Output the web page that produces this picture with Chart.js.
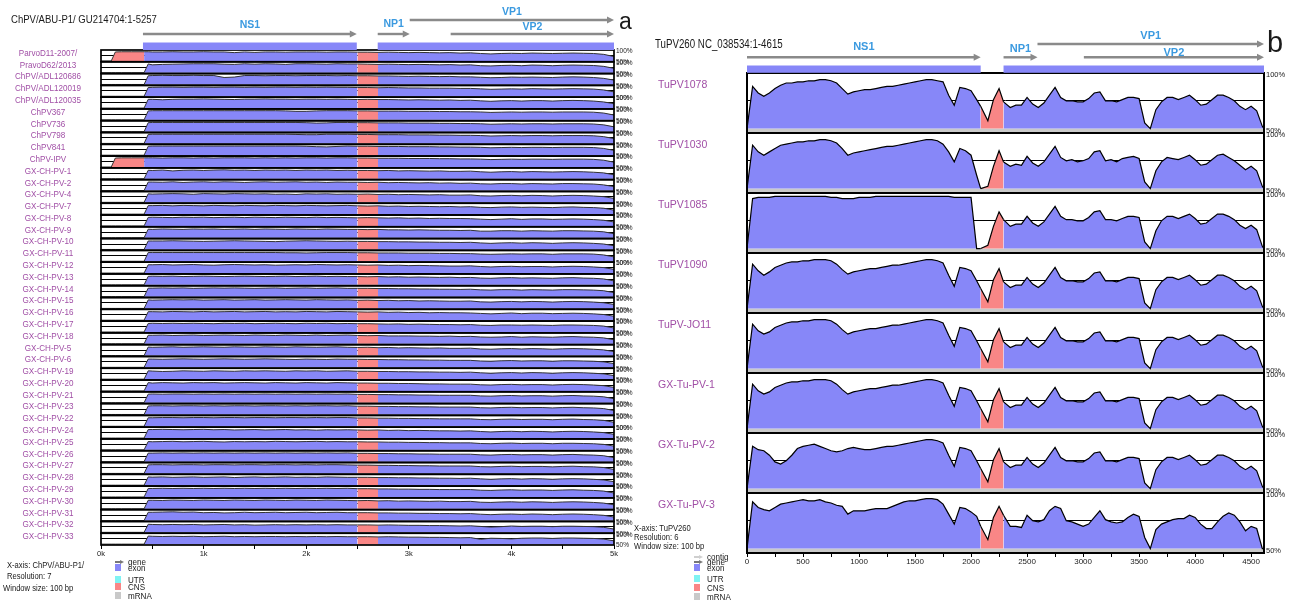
<!DOCTYPE html>
<html>
<head>
<meta charset="utf-8">
<title>VISTA plots</title>
<script src="https://cdn.jsdelivr.net/npm/chart.js@4.4.1/dist/chart.umd.min.js"></script>
<style>
  html, body { margin: 0; padding: 0; background: #fff; }
  body { position: relative; width: 1295px; height: 602px; overflow: hidden; font-family: "Liberation Sans", Arial, sans-serif; }
  canvas { position: absolute; top: 0; }
  .txt { position: absolute; white-space: nowrap; color: #1a1a1a; line-height: 1; transform-origin: 0 0; }
  .sw { position: absolute; width: 6px; height: 7px; }
</style>
</head>
<body>
<canvas id="chartA" width="650" height="602" style="left:0"></canvas>
<canvas id="chartB" width="655" height="602" style="left:640px"></canvas>

<div class="txt" style="left:11px;top:13.5px;font-size:11.5px;transform:scaleX(0.83)">ChPV/ABU-P1/ GU214704:1-5257</div>
<div class="txt" style="left:619px;top:10px;font-size:23px">a</div>
<div class="txt" style="left:655px;top:37.5px;font-size:12px;transform:scaleX(0.81)">TuPV260 NC_038534:1-4615</div>
<div class="txt" style="left:1267px;top:28px;font-size:29px">b</div>

<div class="txt" style="left:7px;top:560.5px;font-size:9.3px;transform:scaleX(0.82)">X-axis: ChPV/ABU-P1/</div>
<div class="txt" style="left:7px;top:572px;font-size:9.3px;transform:scaleX(0.82)">Resolution: 7</div>
<div class="txt" style="left:3px;top:584px;font-size:9.3px;transform:scaleX(0.82)">Window size: 100 bp</div>

<div class="txt" style="left:634px;top:524px;font-size:9.3px;transform:scaleX(0.82)">X-axis: TuPV260</div>
<div class="txt" style="left:634px;top:533px;font-size:9.3px;transform:scaleX(0.82)">Resolution: 6</div>
<div class="txt" style="left:634px;top:541.5px;font-size:9.3px;transform:scaleX(0.82)">Window size: 100 bp</div>

<div id="legA"></div>
<div id="legB"></div>

<script>
// ---------- panel a : ChPV/ABU-P1 reference, 42 tracks ----------
const xsA = [0, 100, 140, 200, 300, 400, 420, 460, 500, 600, 700, 800, 900, 1000, 1100, 1200, 1300, 1400,
  1500, 1600, 1700, 1800, 1900, 2000, 2100, 2200, 2300, 2400, 2500, 2600, 2700, 2800, 2900, 3000, 3100,
  3200, 3300, 3400, 3500, 3600, 3700, 3800, 3900, 4000, 4100, 4200, 4300, 4400, 4500, 4600, 4700, 4800,
  4900, 5000];
const xTicksA = [0, 500, 1000, 1500, 2000, 2500, 3000, 3500, 4000, 4500, 5000];

const namesA = ["ParvoD11-2007/", "PravoD62/2013", "ChPV/ADL120686", "ChPV/ADL120019", "ChPV/ADL120035",
  "ChPV367", "ChPV736", "ChPV798", "ChPV841", "ChPV-IPV", "GX-CH-PV-1", "GX-CH-PV-2", "GX-CH-PV-4",
  "GX-CH-PV-7", "GX-CH-PV-8", "GX-CH-PV-9", "GX-CH-PV-10", "GX-CH-PV-11", "GX-CH-PV-12", "GX-CH-PV-13",
  "GX-CH-PV-14", "GX-CH-PV-15", "GX-CH-PV-16", "GX-CH-PV-17", "GX-CH-PV-18", "GX-CH-PV-5", "GX-CH-PV-6",
  "GX-CH-PV-19", "GX-CH-PV-20", "GX-CH-PV-21", "GX-CH-PV-23", "GX-CH-PV-22", "GX-CH-PV-24", "GX-CH-PV-25",
  "GX-CH-PV-26", "GX-CH-PV-27", "GX-CH-PV-28", "GX-CH-PV-29", "GX-CH-PV-30", "GX-CH-PV-31", "GX-CH-PV-32",
  "GX-CH-PV-33"];

// conserved identity (%) per track, read at xsA
const identA = [
  [50,50,91,92,92,92,92,92, 91,91,92,91,91,92,91,91,88,91, 89,91,91,90,91,91,91,90,91,91, 90,90,89,90,89,88,89,88,87,88, 86,87,84,82,84,85,84,86,85,84, 85,86,85,84,80,70],
  [50,50,50,50,50,50,50,90, 86,88,89,90,91,91,91,89,88,91, 89,91,90,88,91,91,90,89,91,90, 90,89,88,89,88,87,88,87,86,87, 85,86,82,81,83,84,82,85,84,82, 84,85,84,83,79,70],
  [50,50,50,50,50,50,50,90, 91,92,91,91,92,91,91,82,84,91, 91,90,91,91,90,91,91,91,90,91, 90,90,89,89,88,87,88,87,86,87, 85,85,83,81,82,84,83,84,83,82, 84,85,84,82,78,70],
  [50,50,50,50,50,50,50,90, 91,92,92,91,92,92,91,92,92,91, 92,91,92,92,91,92,91,92,91,91, 90,90,89,90,89,88,88,87,87,87, 86,86,84,82,83,84,83,85,84,83, 84,85,84,83,79,70],
  [50,50,50,50,50,50,50,90, 90,88,90,91,91,92,91,90,89,91, 91,92,91,91,90,91,91,90,91,90, 89,90,89,89,88,87,88,87,86,87, 85,86,83,81,83,84,82,84,84,82, 84,85,84,82,78,70],
  [50,50,50,50,50,50,50,91, 92,92,92,92,92,92,92,92,92,92, 92,92,92,91,89,89,91,92,92,92, 91,91,90,90,90,89,89,89,88,88, 87,87,86,84,85,86,85,86,86,85, 86,86,86,85,81,72],
  [50,50,50,50,50,50,50,91, 92,92,92,92,92,92,92,92,92,92, 92,92,92,92,92,91,89,90,92,92, 91,91,90,90,90,89,89,89,88,88, 87,87,86,84,85,86,85,86,86,85, 86,86,86,85,81,72],
  [50,50,50,50,50,50,50,91, 92,92,92,92,92,92,92,92,92,92, 92,92,92,92,91,90,90,92,92,92, 91,91,90,90,90,89,89,89,88,88, 87,87,86,84,85,86,85,86,86,85, 86,86,86,85,81,72],
  [50,50,50,50,50,50,50,91, 92,92,92,92,92,92,92,92,92,92, 92,92,92,92,92,91,89,88,90,92, 91,91,90,90,90,89,89,89,88,88, 87,87,86,84,85,86,85,86,86,85, 86,86,86,85,81,72],
  [50,50,91,92,92,92,92,92, 92,91,92,92,91,92,91,92,92,92, 91,92,91,92,91,92,92,91,92,92, 91,91,90,90,90,89,89,89,88,88, 87,87,86,84,85,86,85,86,86,85, 86,86,86,85,81,72],
  [50,50,50,50,50,50,50,89, 88,90,86,89,90,88,90,91,89,90, 88,90,89,90,88,90,89,90,88,89, 88,88,87,88,86,87,86,85,86,84, 84,85,82,80,82,83,81,83,82,81, 82,83,82,80,77,68],
  [50,50,50,50,50,50,50,89, 89,88,90,87,89,90,88,90,89,87, 89,90,88,89,90,88,89,87,89,88, 88,87,88,86,87,86,85,86,84,85, 83,84,81,80,82,82,80,82,81,80, 82,82,81,80,76,68],
  [50,50,50,50,50,50,50,89, 88,89,90,89,87,90,89,88,90,89, 88,89,87,88,86,89,88,89,87,88, 87,88,86,87,85,86,85,84,85,83, 83,84,80,79,81,82,80,82,81,79, 81,82,81,79,76,68],
  [50,50,50,50,50,50,50,89, 89,90,88,90,89,88,90,89,88,90, 89,88,90,89,88,90,89,88,89,90, 88,87,88,86,87,85,86,85,84,85, 83,84,81,80,82,83,81,82,81,80, 82,83,81,80,77,68],
  [50,50,50,50,50,50,50,89, 90,89,88,90,89,90,88,89,90,88, 90,89,88,90,89,88,90,88,89,88, 87,88,87,86,87,85,86,84,85,84, 84,83,81,79,81,83,80,82,82,80, 81,82,81,79,76,68],
  [50,50,50,50,50,50,50,89, 88,90,89,88,90,89,90,88,89,90, 88,90,89,88,90,89,88,90,89,88, 88,87,88,86,86,85,86,85,84,84, 83,84,80,80,82,82,80,82,81,80, 82,82,81,80,77,68],
  [50,50,50,50,50,50,50,89, 89,89,90,89,88,87,88,89,90,89, 88,87,86,88,89,90,89,88,87,88, 87,87,86,86,85,85,84,84,83,83, 82,83,80,78,80,81,79,81,80,78, 80,81,80,78,75,67],
  [50,50,50,50,50,50,50,90, 90,90,90,90,90,90,90,90,90,90, 90,90,90,89,89,88,89,90,90,90, 89,89,88,88,88,87,87,87,86,86, 85,85,83,82,83,84,83,84,84,82, 84,84,84,83,79,70],
  [50,50,50,50,50,50,50,88, 88,89,87,88,89,87,86,88,89,88, 87,88,86,87,88,87,89,88,87,88, 87,86,87,85,86,84,85,84,83,82, 82,83,80,78,80,81,79,80,80,78, 80,81,80,78,75,67],
  [50,50,50,50,50,50,50,89, 90,89,90,88,89,90,89,88,89,90, 89,88,89,90,88,89,90,88,89,88, 88,87,88,86,87,85,86,85,84,85, 83,84,81,80,82,83,81,82,81,80, 82,83,81,80,77,68],
  [50,50,50,50,50,50,50,89, 89,90,89,90,88,89,90,89,90,89, 88,89,90,88,89,90,88,89,90,88, 88,88,87,87,86,86,85,85,84,84, 83,84,81,80,82,82,80,82,81,80, 82,82,81,80,77,68],
  [50,50,50,50,50,50,50,89, 88,89,90,89,90,88,89,90,88,89, 90,88,89,90,89,88,90,89,88,89, 87,88,86,87,85,86,84,85,84,83, 83,84,80,79,81,82,80,82,81,79, 81,82,81,79,76,68],
  [50,50,50,50,50,50,50,89, 89,88,90,89,88,90,88,89,90,88, 89,90,88,89,88,90,89,88,90,89, 88,87,88,86,87,85,86,84,85,84, 84,83,81,79,81,83,80,82,82,80, 81,82,81,79,76,68],
  [50,50,50,50,50,50,50,89, 90,89,90,89,90,89,88,90,89,90, 88,89,90,89,88,90,89,90,88,89, 88,88,87,86,87,85,86,85,84,84, 83,84,81,80,82,82,81,82,81,80, 82,82,81,80,77,68],
  [50,50,50,50,50,50,50,89, 89,90,88,89,90,88,89,90,89,88, 90,89,88,90,89,88,90,88,89,90, 88,87,88,86,86,86,85,85,84,85, 83,84,81,80,81,83,80,82,81,80, 82,83,81,80,77,68],
  [50,50,50,50,50,50,50,89, 88,89,90,88,89,90,89,88,90,89, 88,90,89,88,90,89,88,89,90,88, 87,88,86,87,85,86,85,84,85,83, 83,84,80,79,81,82,80,82,81,79, 81,82,81,79,76,68],
  [50,50,50,50,50,50,50,88, 88,87,88,89,88,87,88,89,88,87, 88,89,88,87,86,88,87,86,88,87, 87,86,86,85,85,84,84,83,83,82, 82,82,79,78,80,81,79,80,80,78, 80,80,79,78,75,67],
  [50,50,50,50,50,50,50,88, 87,85,86,88,87,86,88,87,86,88, 87,88,87,86,88,87,88,86,87,88, 86,86,85,85,84,84,83,83,82,82, 81,82,79,77,79,80,78,80,79,77, 79,80,79,77,74,66],
  [50,50,50,50,50,50,50,88, 86,88,87,86,88,87,88,86,87,88, 87,86,88,87,86,88,87,86,88,87, 86,86,85,85,84,84,83,82,82,81, 81,81,78,77,79,80,78,79,79,77, 79,80,79,77,74,66],
  [50,50,50,50,50,50,50,89, 90,89,90,90,89,90,89,90,89,90, 89,90,89,90,89,90,89,90,89,90, 88,88,87,87,86,86,85,85,84,84, 84,84,81,80,82,83,81,82,82,80, 82,83,81,80,77,68],
  [50,50,50,50,50,50,50,89, 90,90,89,90,90,89,90,89,90,90, 89,90,90,89,90,89,90,90,89,90, 88,88,87,87,86,86,85,85,84,84, 84,84,81,80,82,83,81,82,82,80, 82,83,81,80,77,68],
  [50,50,50,50,50,50,50,89, 89,90,90,89,90,90,89,90,90,89, 90,90,89,90,90,89,90,89,90,90, 88,88,87,87,86,86,85,85,84,84, 84,84,81,80,82,83,81,82,82,80, 82,83,81,80,77,68],
  [50,50,50,50,50,50,50,89, 89,90,89,88,89,90,88,89,87,88, 89,87,88,89,87,88,86,88,87,88, 87,86,87,85,86,84,85,84,83,83, 82,83,80,78,80,81,79,81,80,78, 80,81,80,78,75,67],
  [50,50,50,50,50,50,50,88, 87,88,89,87,88,89,87,86,88,87, 88,87,89,88,87,88,89,87,88,87, 87,86,86,85,85,84,84,83,83,82, 82,82,79,78,80,81,79,80,80,78, 80,80,79,78,75,67],
  [50,50,50,50,50,50,50,89, 89,90,89,90,89,90,89,90,89,90, 89,90,89,90,89,90,89,90,89,90, 88,88,87,87,86,86,85,85,84,84, 84,84,81,80,82,83,81,82,82,80, 82,83,81,80,77,68],
  [50,50,50,50,50,50,50,89, 90,90,89,90,90,89,90,90,89,90, 90,89,90,90,89,90,89,90,90,89, 88,88,87,87,86,86,85,85,84,84, 84,84,81,80,82,83,81,82,82,80, 82,83,81,80,77,68],
  [50,50,50,50,50,50,50,88, 87,88,86,87,88,86,87,88,85,87, 88,86,87,88,86,87,86,88,87,86, 86,86,85,85,84,84,83,83,82,82, 81,82,79,77,79,80,78,80,79,77, 79,80,79,77,74,66],
  [50,50,50,50,50,50,50,89, 89,90,89,90,89,90,89,90,89,90, 89,90,89,90,89,90,89,90,89,90, 88,88,87,87,86,86,85,85,84,84, 84,84,81,80,82,83,81,82,82,80, 82,83,81,80,77,68],
  [50,50,50,50,50,50,50,89, 89,88,90,89,88,90,89,88,90,89, 88,90,89,88,90,89,88,90,89,88, 87,88,86,87,85,86,85,84,85,83, 83,84,80,79,81,82,80,82,81,79, 81,82,81,79,76,68],
  [50,50,50,50,50,50,50,88, 88,89,90,88,89,86,87,85,86,88, 86,87,88,86,87,88,86,87,88,86, 86,86,85,85,84,84,83,83,82,82, 81,82,79,77,79,80,78,80,79,77, 79,80,79,77,74,66],
  [50,50,50,50,50,50,50,87, 86,85,86,85,86,84,85,86,84,85, 83,84,85,84,85,84,85,84,85,84, 84,84,83,84,83,82,82,81,81,80, 79,80,77,74,76,79,77,78,78,76, 78,78,77,76,73,65],
  [50,50,50,50,50,50,50,87, 86,85,86,85,86,84,85,86,84,85, 84,85,85,84,85,84,85,84,85,84, 84,84,83,84,83,82,82,81,81,80, 79,80,72,77,76,74,77,78,78,76, 78,78,77,76,73,65]
];

const geneNamesA = ["NS1", "NP1", "VP1", "VP2"];
const geneStartA = [409, 2697, 3009, 3408];
const geneEndA = [2493, 3009, 5000, 5000];
const exonStartA = [409, 2697];
const exonEndA = [2493, 5000];
const cnsStartA = [100, 2495];
const cnsEndA = [420, 2700];

// ---------- panel b : TuPV260 reference, 8 tracks ----------
const xsB = [0, 50, 100, 150, 200, 250, 300, 350, 400, 450, 500, 550, 600, 650, 700, 750, 800, 850, 900, 950,
  1000, 1050, 1100, 1150, 1200, 1250, 1300, 1350, 1400, 1450, 1500, 1550, 1600, 1650, 1700, 1750, 1800, 1850,
  1900, 1950, 2000, 2050, 2086, 2150, 2200, 2250, 2290, 2350, 2400, 2450, 2500, 2550, 2600, 2650, 2700, 2750,
  2800, 2850, 2900, 2950, 3000, 3050, 3100, 3150, 3200, 3250, 3300, 3350, 3400, 3450, 3500, 3550, 3600, 3650,
  3700, 3750, 3800, 3850, 3900, 3950, 4000, 4050, 4100, 4150, 4200, 4250, 4300, 4350, 4400, 4450, 4500, 4550,
  4600, 4615];
const xTicksB = [0, 250, 500, 750, 1000, 1250, 1500, 1750, 2000, 2250, 2500, 2750, 3000, 3250, 3500, 3750,
  4000, 4250, 4500];

const namesB = ["TuPV1078", "TuPV1030", "TuPV1085", "TuPV1090", "TuPV-JO11", "GX-Tu-PV-1", "GX-Tu-PV-2", "GX-Tu-PV-3"];

const identB = [
  [50,88,82,79,82,86,89,91,91,92, 92,93,93,94,94,93,91,86,81,83, 84,85,85,86,87,88,88,89,90,91, 92,93,94,94,93,92,80,71,87,86, 84,76,
   70,57,76,86,74,
   69,71,71,78,72,69,73,80,87,78, 75,75,74,74,77,82,83,75,75,74, 76,78,78,77,55,50,67,74,78,78, 76,78,80,76,71,72,76,80,80,78, 75,70,67,70,66,52, 50],
  [50,89,83,80,83,86,89,90,91,92, 92,93,93,94,94,93,91,86,80,82, 83,84,85,86,87,88,88,89,90,91, 92,93,94,94,93,90,83,74,86,84, 80,62,
   50,52,70,84,74,
   70,72,71,79,73,70,74,81,88,78, 75,76,74,75,77,83,84,75,76,74, 77,78,79,77,56,50,66,74,78,77, 76,78,80,76,71,72,76,80,81,78, 75,71,67,70,66,52, 50],
  [50,95,96,96,96,97,97,97,97,97, 97,97,97,97,97,96,96,95,95,95, 96,96,96,97,97,97,97,97,97,97, 97,97,97,97,97,97,97,96,96,96, 96,50,
   50,53,70,83,76,
   70,72,72,79,73,70,74,81,88,79, 76,76,75,75,78,83,84,76,76,75, 77,79,79,78,56,50,66,75,79,79, 77,79,81,77,72,73,77,81,81,79, 76,71,68,71,67,52, 50],
  [50,90,84,80,83,87,89,91,92,92, 93,93,94,94,94,93,90,85,81,83, 84,85,86,86,87,88,89,89,90,91, 92,93,94,94,93,91,80,70,87,86, 84,75,
   68,56,76,86,74,
   69,71,71,78,72,69,73,80,87,78, 75,75,74,74,77,82,83,75,75,74, 76,78,78,77,55,50,67,74,78,78, 76,78,80,76,71,72,76,80,80,78, 75,70,67,70,66,52, 50],
  [50,90,84,81,83,87,89,91,92,92, 93,93,94,94,94,93,90,85,81,83, 84,85,86,86,87,88,89,89,90,91, 92,93,94,94,93,91,80,70,87,86, 84,75,
   68,56,76,86,74,
   69,71,71,78,72,69,73,80,87,78, 75,75,74,74,77,82,83,75,75,74, 76,78,78,77,55,50,67,74,78,78, 76,78,80,76,71,72,76,80,80,78, 75,70,67,70,66,52, 50],
  [50,90,84,81,83,87,89,91,92,92, 93,93,94,94,94,93,90,85,81,83, 84,85,86,86,87,88,89,89,90,91, 92,93,94,94,93,91,80,70,87,86, 84,75,
   68,56,76,86,74,
   69,71,71,78,72,69,73,80,87,78, 75,75,74,74,77,82,83,75,75,74, 76,78,78,77,55,50,67,74,78,78, 76,78,80,76,71,72,76,80,80,78, 75,70,67,70,66,52, 50],
  [50,88,85,84,80,74,72,75,80,86, 88,89,90,88,86,84,83,84,86,87, 86,85,85,86,87,88,88,89,90,91, 92,93,94,94,93,91,80,70,87,86, 84,75,
   68,56,76,86,74,
   69,71,71,78,72,69,73,80,87,78, 75,75,74,74,77,82,83,75,75,74, 76,78,78,77,55,50,67,74,78,78, 76,78,80,76,71,72,76,80,80,78, 75,70,67,70,66,52, 50],
  [50,92,87,85,84,87,90,91,92,93, 94,93,93,94,92,91,89,88,81,84, 84,84,85,86,86,86,88,90,92,93, 93,94,95,95,94,90,81,72,87,86, 83,79,
   70,58,78,88,80,
   70,70,69,80,75,74,76,84,88,86, 75,74,72,70,72,78,84,76,74,73, 74,78,81,79,60,50,67,72,74,76, 77,77,80,78,72,68,68,74,79,82, 80,74,66,70,68,50, 50]
];

const geneNamesB = ["NS1", "NP1", "VP1", "VP2"];
const geneStartB = [0, 2290, 2593, 3007];
const geneEndB = [2086, 2593, 4615, 4615];
const exonStartB = [0, 2290];
const exonEndB = [2086, 4615];
const cnsStartB = [2086];
const cnsEndB = [2290];

// ---------- styling ----------
const exonBlue = "#8787f8";
const cnsPink = "#f98686";
const barGrey = "#c9c9c9";
const arrowGrey = "#8a8a8a";
const labelPurple = "#a14fa6";
const geneBlue = "#3b9ae0";

Chart.defaults.font.family = "'Liberation Sans', Arial, sans-serif";
Chart.defaults.color = "#222";
Chart.defaults.animation = false;

function vistaChart(canvasId, o) {
  const inCns = x => o.cnsStart.some((s, k) => x >= s && x < o.cnsEnd[k]);

  const scales = {
    x: {
      type: "linear", position: "bottom", min: 0, max: o.xMax,
      afterFit: s => { s.height = 14; },
      afterBuildTicks: s => { s.ticks = o.xTicks.map(v => ({ value: v })); },
      ticks: { autoSkip: false, maxRotation: 0, padding: 0,
        font: { size: o.xFont }, callback: o.xLabel },
      grid: { drawOnChartArea: false, tickLength: 4, color: "#000" },
      border: { display: false }
    }
  };
  o.names.forEach((n, i) => {
    scales["y" + i] = {
      type: "linear", position: "right", stack: "tracks", stackWeight: 1,
      min: 46, max: 100,
      afterFit: s => { s.width = 30; },
      afterBuildTicks: s => { s.ticks = [{ value: 50 }, { value: 75 }, { value: 100 }]; },
      ticks: { autoSkip: false, padding: 2, labelOffset: o.pctOffset, font: { size: o.pctFont },
        callback: v => (v === 100 ? "100%" : v === 50 ? "50%" : "") },
      grid: { drawTicks: false, lineWidth: 1,
        color: c => (c.tick && c.tick.value === 75 ? "#000" : "rgba(0,0,0,0)") },
      border: { display: false }
    };
  });

  const datasets = o.values.map((vals, i) => ({
    label: o.names[i],
    data: o.xs.map((x, j) => ({ x: x, y: vals[j] })),
    yAxisID: "y" + i,
    borderColor: o.lineColor,
    borderWidth: o.lineWidth,
    backgroundColor: exonBlue,
    pointRadius: 0,
    tension: 0,
    fill: { value: 50 },
    segment: { backgroundColor: c => (inCns(c.p0.parsed.x) ? cnsPink : exonBlue) }
  }));

  const decor = {
    id: "vistaDecor",
    beforeDatasetsDraw(chart) {
      const { ctx, chartArea: a } = chart;
      ctx.save();
      ctx.fillStyle = barGrey;
      o.names.forEach((n, i) => {
        const s = chart.scales["y" + i];
        const y50 = s.getPixelForValue(50);
        ctx.fillRect(a.left, y50, a.right - a.left, s.bottom - y50);
      });
      ctx.restore();
    },
    afterDraw(chart) {
      const { ctx, chartArea: a } = chart;
      const xs = chart.scales.x;
      ctx.save();
      // track frames
      ctx.strokeStyle = "#000";
      ctx.lineWidth = o.frameWidth;
      o.names.forEach((n, i) => {
        const s = chart.scales["y" + i];
        ctx.strokeRect(a.left, s.top, a.right - a.left, s.bottom - s.top);
      });
      // track names
      ctx.fillStyle = labelPurple;
      ctx.font = o.nameFont + "px 'Liberation Sans', Arial, sans-serif";
      ctx.textAlign = o.nameAlign;
      ctx.textBaseline = "middle";
      o.names.forEach((n, i) => {
        const s = chart.scales["y" + i];
        const y = o.nameAtTop ? s.top + o.nameDy : (s.top + s.bottom) / 2 + o.nameDy;
        ctx.save();
        ctx.translate(o.nameX, y);
        ctx.scale(o.nameSx, 1);
        ctx.fillText(n, 0, 0);
        ctx.restore();
      });
      // exon bars
      ctx.fillStyle = exonBlue;
      o.exonStart.forEach((s, k) => {
        const x0 = xs.getPixelForValue(s), x1 = xs.getPixelForValue(o.exonEnd[k]);
        ctx.fillRect(x0, o.exonTop, x1 - x0, o.exonH);
      });
      // gene arrows + names
      o.geneNames.forEach((g, k) => {
        const x0 = xs.getPixelForValue(o.geneStart[k]);
        const x1 = xs.getPixelForValue(o.geneEnd[k]);
        const y = o.arrowY[g];
        ctx.strokeStyle = arrowGrey;
        ctx.fillStyle = arrowGrey;
        ctx.lineWidth = 2.4;
        ctx.beginPath();
        ctx.moveTo(x0, y);
        ctx.lineTo(x1 - 5, y);
        ctx.stroke();
        ctx.beginPath();
        ctx.moveTo(x1, y);
        ctx.lineTo(x1 - 7, y - 3.5);
        ctx.lineTo(x1 - 7, y + 3.5);
        ctx.closePath();
        ctx.fill();
        ctx.fillStyle = geneBlue;
        ctx.font = "bold " + o.geneFont + "px 'Liberation Sans', Arial, sans-serif";
        ctx.textAlign = "center";
        ctx.textBaseline = "middle";
        ctx.fillText(g, (x0 + x1) / 2, o.labelY[g]);
      });
      ctx.restore();
    }
  };

  return new Chart(document.getElementById(canvasId), {
    type: "line",
    data: { datasets: datasets },
    options: {
      responsive: false,
      animation: false,
      devicePixelRatio: 1,
      layout: { padding: o.padding },
      plugins: { legend: { display: false }, tooltip: { enabled: false } },
      scales: scales
    },
    plugins: [decor]
  });
}

vistaChart("chartA", {
  xs: xsA, values: identA, names: namesA, xMax: 5000, xTicks: xTicksA,
  xLabel: v => (v % 1000 === 0 ? v / 1000 + "k" : ""), xFont: 7.5,
  cnsStart: cnsStartA, cnsEnd: cnsEndA,
  exonStart: exonStartA, exonEnd: exonEndA, exonTop: 42.5, exonH: 7.5,
  geneNames: geneNamesA, geneStart: geneStartA, geneEnd: geneEndA,
  arrowY: { NS1: 34, NP1: 34, VP1: 20, VP2: 34 },
  labelY: { NS1: 25, NP1: 24, VP1: 12, VP2: 27 },
  geneFont: 10.5,
  padding: { left: 101, right: 6, top: 50, bottom: 43 },
  pctFont: 6.5, pctOffset: 1.5, lineWidth: 1, lineColor: "#333", frameWidth: 1.7,
  nameFont: 9, nameSx: 0.9, nameX: 48, nameAlign: "center", nameAtTop: false, nameDy: -2.5
});

vistaChart("chartB", {
  xs: xsB, values: identB, names: namesB, xMax: 4615, xTicks: xTicksB,
  xLabel: v => (v % 500 === 0 ? String(v) : ""), xFont: 8,
  cnsStart: cnsStartB, cnsEnd: cnsEndB,
  exonStart: exonStartB, exonEnd: exonEndB, exonTop: 65.5, exonH: 7.3,
  geneNames: geneNamesB, geneStart: geneStartB, geneEnd: geneEndB,
  arrowY: { NS1: 57.3, NP1: 57.3, VP1: 44, VP2: 57.3 },
  labelY: { NS1: 46.7, NP1: 49.3, VP1: 36, VP2: 52.5 },
  geneFont: 11,
  padding: { left: 107, right: 1, top: 73, bottom: 35 },
  pctFont: 7.5, pctOffset: 2, lineWidth: 1.2, lineColor: "#000", frameWidth: 2,
  nameFont: 10.5, nameSx: 1, nameX: 18, nameAlign: "left", nameAtTop: true, nameDy: 12
});

// ---------- legends (html) ----------
function legend(id, left, items) {
  const host = document.getElementById(id);
  items.forEach(it => {
    if (it.kind === "arrow") {
      const a = document.createElement("div");
      a.style.cssText = `position:absolute;left:${left}px;top:${it.top + 4}px;width:5px;height:2px;background:${it.color}`;
      const h = document.createElement("div");
      h.style.cssText = `position:absolute;left:${left + 5}px;top:${it.top + 2.5}px;width:0;height:0;border-top:2.5px solid transparent;border-bottom:2.5px solid transparent;border-left:4px solid ${it.color}`;
      host.appendChild(a); host.appendChild(h);
    } else {
      const s = document.createElement("div");
      s.className = "sw";
      s.style.cssText += `left:${left}px;top:${it.top + 1}px;background:${it.color}`;
      host.appendChild(s);
    }
    const t = document.createElement("div");
    t.className = "txt";
    t.textContent = it.text;
    t.style.cssText += `left:${left + 13}px;top:${it.top}px;font-size:9.5px;transform:scaleX(0.85)`;
    host.appendChild(t);
  });
}
legend("legA", 115, [
  { kind: "arrow", color: "#777", text: "gene", top: 557 },
  { kind: "box", color: exonBlue, text: "exon", top: 563 },
  { kind: "box", color: "#7ff3f3", text: "UTR", top: 574.5 },
  { kind: "box", color: cnsPink, text: "CNS", top: 582 },
  { kind: "box", color: barGrey, text: "mRNA", top: 591 }
]);
legend("legB", 694, [
  { kind: "arrow", color: "#cfcfcf", text: "contig", top: 552 },
  { kind: "arrow", color: "#777", text: "gene", top: 557 },
  { kind: "box", color: exonBlue, text: "exon", top: 563 },
  { kind: "box", color: "#7ff3f3", text: "UTR", top: 574 },
  { kind: "box", color: cnsPink, text: "CNS", top: 583 },
  { kind: "box", color: barGrey, text: "mRNA", top: 592 }
]);
</script>
</body>
</html>
